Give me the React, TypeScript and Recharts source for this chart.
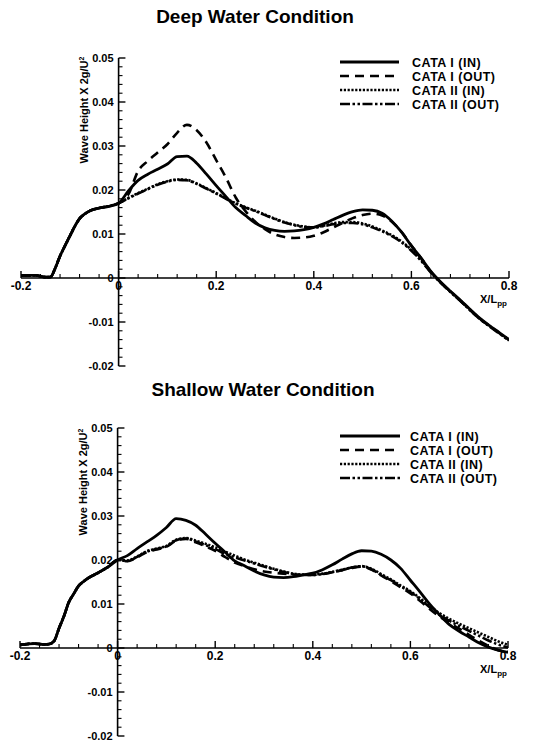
import React from 'react';
import { LineChart, Line, XAxis, YAxis, ReferenceLine, ReferenceDot } from 'recharts';

const FONT = '"Liberation Sans", Arial, Helvetica, sans-serif';

// X/Lpp stations ahead of the bow (shared by all four runs) and along the hull
const bowX = [-0.2, -0.17, -0.15, -0.14, -0.13, -0.12, -0.11, -0.1, -0.09, -0.08, -0.07, -0.06, -0.04, -0.02];
const hullX = [0, 0.02, 0.04, 0.06, 0.08, 0.1, 0.12, 0.14, 0.16, 0.18, 0.2, 0.22, 0.24, 0.26, 0.28, 0.3, 0.32, 0.34, 0.36, 0.38, 0.4, 0.42, 0.44, 0.46, 0.48, 0.5, 0.52, 0.54, 0.56, 0.58, 0.6, 0.62, 0.64, 0.66, 0.68, 0.7, 0.72, 0.74, 0.76, 0.78, 0.8];

// Deep water wave heights
const deepBow = [0.0006, 0.0006, 0.0002, 0.0002, 0.0022, 0.005, 0.0073, 0.0095, 0.0117, 0.0135, 0.0145, 0.0152, 0.0159, 0.0163];
const deepCata1In = [0.017, 0.0198, 0.0222, 0.0236, 0.0247, 0.0259, 0.0276, 0.0277, 0.0261, 0.0236, 0.021, 0.0185, 0.016, 0.0142, 0.0125, 0.0114, 0.0108, 0.0106, 0.0107, 0.011, 0.0115, 0.0123, 0.0133, 0.0143, 0.0151, 0.0155, 0.0154, 0.0147, 0.0129, 0.0104, 0.0073, 0.0045, 0.0015, -0.0009, -0.003, -0.005, -0.0071, -0.0091, -0.0108, -0.0124, -0.014];
const deepCata1Out = [0.017, 0.019, 0.0243, 0.0266, 0.0285, 0.0304, 0.033, 0.0348, 0.0336, 0.0308, 0.0268, 0.0228, 0.0183, 0.0152, 0.0128, 0.0111, 0.0099, 0.0093, 0.0091, 0.0092, 0.0096, 0.0104, 0.0115, 0.0126, 0.0136, 0.0143, 0.0146, 0.0142, 0.0128, 0.0104, 0.0074, 0.0045, 0.0014, -0.001, -0.0031, -0.0051, -0.0073, -0.0093, -0.0109, -0.0125, -0.0141];
const deepCata2In = [0.017, 0.0182, 0.0193, 0.0203, 0.0213, 0.022, 0.0224, 0.0223, 0.0215, 0.0204, 0.0193, 0.0181, 0.017, 0.0161, 0.0153, 0.0144, 0.0135, 0.0127, 0.0121, 0.0117, 0.0115, 0.0119, 0.0124, 0.0127, 0.0127, 0.0124, 0.0117, 0.0108, 0.0097, 0.0083, 0.0064, 0.0041, 0.0013, -0.001, -0.0031, -0.0051, -0.0072, -0.0092, -0.0109, -0.0125, -0.0141];
const deepCata2Out = [0.017, 0.0181, 0.0192, 0.0202, 0.0212, 0.0219, 0.0223, 0.0222, 0.0214, 0.0203, 0.0192, 0.018, 0.0169, 0.016, 0.0152, 0.0143, 0.0134, 0.0126, 0.012, 0.0116, 0.0115, 0.0118, 0.0122, 0.0125, 0.0125, 0.0122, 0.0115, 0.0106, 0.0095, 0.0081, 0.0062, 0.0039, 0.0012, -0.0011, -0.0032, -0.0052, -0.0073, -0.0093, -0.011, -0.0126, -0.0142];

// Shallow water wave heights
const shallowBow = [0.0007, 0.001, 0.0008, 0.0009, 0.0016, 0.0045, 0.0072, 0.0104, 0.0123, 0.0141, 0.0151, 0.0159, 0.0171, 0.0184];
const shallowCata1In = [0.02, 0.021, 0.0226, 0.0241, 0.0256, 0.0274, 0.0294, 0.029, 0.0279, 0.0259, 0.0238, 0.0218, 0.0198, 0.0187, 0.0175, 0.0166, 0.0161, 0.016, 0.0162, 0.0166, 0.017, 0.0178, 0.0189, 0.0202, 0.0214, 0.0221, 0.022, 0.0213, 0.02, 0.0181, 0.0154, 0.0127, 0.0099, 0.0075, 0.0053, 0.0038, 0.0025, 0.0012, 0.0002, -0.0005, -0.001];
const shallowCata1Out = [0.02, 0.0197, 0.0206, 0.0218, 0.0224, 0.023, 0.0244, 0.0248, 0.024, 0.0231, 0.0221, 0.0207, 0.0194, 0.0186, 0.0179, 0.0174, 0.0171, 0.0169, 0.0167, 0.0166, 0.0166, 0.0168, 0.0172, 0.0177, 0.0182, 0.0185, 0.0178, 0.0165, 0.0152, 0.0138, 0.0124, 0.0107, 0.0088, 0.0071, 0.0057, 0.0044, 0.003, 0.0017, 0.0005, -0.0005, -0.0008];
const shallowCata2In = [0.02, 0.0199, 0.0208, 0.022, 0.0226, 0.0232, 0.0246, 0.025, 0.0244, 0.0237, 0.0229, 0.0219, 0.021, 0.0201, 0.0194, 0.0187, 0.018, 0.0174, 0.0169, 0.0167, 0.0167, 0.0169, 0.0173, 0.0178, 0.0183, 0.0186, 0.018, 0.0168, 0.0156, 0.0142, 0.0129, 0.0113, 0.0095, 0.0079, 0.0066, 0.0055, 0.0045, 0.0035, 0.0025, 0.0015, 0.0007];
const shallowCata2Out = [0.02, 0.0198, 0.0207, 0.0219, 0.0225, 0.0231, 0.0245, 0.0249, 0.0242, 0.0234, 0.0225, 0.0214, 0.0206, 0.0199, 0.0192, 0.0185, 0.0179, 0.0173, 0.0168, 0.0166, 0.0166, 0.0168, 0.0172, 0.0177, 0.0183, 0.0186, 0.0179, 0.0166, 0.0154, 0.014, 0.0127, 0.0111, 0.0092, 0.0075, 0.0062, 0.005, 0.0039, 0.0028, 0.0017, 0.0008, 0.0001];

const seriesKeys = ['cata1In', 'cata1Out', 'cata2In', 'cata2Out'];
const seriesLabels = ['CATA I (IN)', 'CATA I (OUT)', 'CATA II (IN)', 'CATA II (OUT)'];
const seriesDash = ['', '9 6', '2.2 1.6', '10 2.5 2.5 2.5 2.5 2.5'];
const seriesWidth = [2.8, 2.6, 2.6, 2.6];
const drawOrder = [3, 2, 1, 0];

const yMajor = [0.05, 0.04, 0.03, 0.02, 0.01, 0, -0.01, -0.02];
const yMajorLabels = ['0.05', '0.04', '0.03', '0.02', '0.01', '0', '-0.01', '-0.02'];
const yMinor = [0.048, 0.046, 0.044, 0.042, 0.038, 0.036, 0.034, 0.032, 0.028, 0.026, 0.024, 0.022, 0.018, 0.016, 0.014, 0.012, 0.008, 0.006, 0.004, 0.002, -0.002, -0.004, -0.006, -0.008, -0.012, -0.014, -0.016, -0.018];
const xMajor = [-0.2, 0, 0.2, 0.4, 0.6, 0.8];
const xMajorLabels = ['-0.2', '0', '0.2', '0.4', '0.6', '0.8'];
const xMinor = [-0.16, -0.12, -0.08, -0.04, 0.04, 0.08, 0.12, 0.16, 0.24, 0.28, 0.32, 0.36, 0.44, 0.48, 0.52, 0.56, 0.64, 0.68, 0.72, 0.76];

const X_DOMAIN: [number, number] = [-0.2, 0.8];
const Y_DOMAIN: [number, number] = [-0.02, 0.05];

function buildRows(bow: number[], runs: number[][]) {
  const rows: Record<string, number>[] = [];
  bowX.forEach((x, i) => {
    const row: Record<string, number> = { x };
    seriesKeys.forEach((k) => { row[k] = bow[i]; });
    rows.push(row);
  });
  hullX.forEach((x, i) => {
    const row: Record<string, number> = { x };
    seriesKeys.forEach((k, s) => { row[k] = runs[s][i]; });
    rows.push(row);
  });
  return rows;
}

const deepRows = buildRows(deepBow, [deepCata1In, deepCata1Out, deepCata2In, deepCata2Out]);
const shallowRows = buildRows(shallowBow, [shallowCata1In, shallowCata1Out, shallowCata2In, shallowCata2Out]);

const labelStyle = { fill: '#000', fontWeight: 700, fontFamily: FONT };

type Layout = {
  top: number;
  margin: { top: number; right: number; bottom: number; left: number };
  titleX: number;
  titleY: number;
  legendY: number;
  legendLine: [number, number];
  legendText: number;
  yTitle: [number, number];
  xTitle: [number, number];
};

function WavePanel({ title, rows, layout }: { title: string; rows: Record<string, number>[]; layout: Layout }) {
  return (
    <div style={{ position: 'absolute', left: 0, top: layout.top, width: 534, height: 371 }}>
      <LineChart width={534} height={371} data={rows} margin={layout.margin}>
        <XAxis type="number" dataKey="x" domain={X_DOMAIN} hide allowDataOverflow />
        <YAxis type="number" domain={Y_DOMAIN} hide allowDataOverflow />

        {/* axes drawn through the origin */}
        <ReferenceLine y={0} stroke="#000" strokeWidth={1.6} ifOverflow="visible" />
        <ReferenceLine segment={[{ x: 0, y: -0.02 }, { x: 0, y: 0.05 }]} stroke="#000" strokeWidth={1.6} ifOverflow="visible" />

        {yMajor.map((v) => (
          <ReferenceLine key={`ym${v}`} segment={[{ x: 0, y: v }, { x: 0.014, y: v }]} stroke="#000" strokeWidth={1.4} ifOverflow="visible" />
        ))}
        {yMinor.map((v) => (
          <ReferenceLine key={`yn${v}`} segment={[{ x: 0, y: v }, { x: 0.008, y: v }]} stroke="#000" strokeWidth={1.1} ifOverflow="visible" />
        ))}
        {xMajor.map((v) => (
          <ReferenceLine key={`xm${v}`} segment={[{ x: v, y: 0 }, { x: v, y: 0.0016 }]} stroke="#000" strokeWidth={1.4} ifOverflow="visible" />
        ))}
        {xMinor.map((v) => (
          <ReferenceLine key={`xn${v}`} segment={[{ x: v, y: 0 }, { x: v, y: 0.0009 }]} stroke="#000" strokeWidth={1.1} ifOverflow="visible" />
        ))}

        {yMajor.map((v, i) => (
          <ReferenceDot key={`yl${v}`} x={0} y={v} r={0} fill="none" stroke="none" ifOverflow="visible"
            label={{ value: yMajorLabels[i], position: 'left', offset: 5, fontSize: 11, ...labelStyle }} />
        ))}
        {xMajor.map((v, i) => (
          <ReferenceDot key={`xl${v}`} x={v} y={0} r={0} fill="none" stroke="none" ifOverflow="visible"
            label={{ value: xMajorLabels[i], position: 'bottom', offset: 3, fontSize: 12, ...labelStyle }} />
        ))}

        {drawOrder.map((s) => (
          <Line
            key={seriesKeys[s]}
            dataKey={seriesKeys[s]}
            type="monotone"
            stroke="#000"
            strokeWidth={seriesWidth[s]}
            strokeDasharray={seriesDash[s] || undefined}
            strokeLinecap="butt"
            dot={false}
            activeDot={false}
            isAnimationActive={false}
          />
        ))}
      </LineChart>

      <svg width={534} height={371} style={{ position: 'absolute', left: 0, top: 0, pointerEvents: 'none' }}>
        <text x={layout.titleX} y={layout.titleY} textAnchor="middle" fontSize={19} fontWeight={700} fontFamily={FONT} fill="#000">
          {title}
        </text>
        <text
          x={layout.yTitle[0]}
          y={layout.yTitle[1]}
          transform={`rotate(-90 ${layout.yTitle[0]} ${layout.yTitle[1]})`}
          textAnchor="middle"
          fontSize={11}
          fontWeight={700}
          fontFamily={FONT}
          fill="#000"
        >
          Wave Height X 2g/U<tspan dy={-4} fontSize={7}>2</tspan>
        </text>
        <text x={layout.xTitle[0]} y={layout.xTitle[1]} fontSize={11} fontWeight={700} fontFamily={FONT} fill="#000">
          X/L<tspan dy={3} fontSize={8}>pp</tspan>
        </text>
        {seriesLabels.map((name, i) => {
          const y = layout.legendY + i * 14;
          return (
            <g key={name}>
              <line
                x1={layout.legendLine[0]}
                x2={layout.legendLine[1]}
                y1={y}
                y2={y}
                stroke="#000"
                strokeWidth={seriesWidth[i]}
                strokeDasharray={seriesDash[i] || undefined}
              />
              <text x={layout.legendText} y={y + 4.5} fontSize={12.5} letterSpacing={0.5} fontWeight={700} fontFamily={FONT} fill="#000">
                {name}
              </text>
            </g>
          );
        })}
      </svg>
    </div>
  );
}

const deepLayout: Layout = {
  top: 0,
  margin: { top: 58, right: 25, bottom: 5, left: 21 },
  titleX: 255,
  titleY: 23,
  legendY: 62,
  legendLine: [340, 399],
  legendText: 412,
  yTitle: [88, 110],
  xTitle: [480, 303],
};

const shallowLayout: Layout = {
  top: 371,
  margin: { top: 57, right: 26, bottom: 6, left: 20 },
  titleX: 263,
  titleY: 25,
  legendY: 65,
  legendLine: [340, 400],
  legendText: 410,
  yTitle: [87, 111],
  xTitle: [480, 302],
};

export default function App() {
  return (
    <div style={{ position: 'absolute', left: 0, top: 0, width: 534, height: 742, background: '#fff', fontFamily: FONT }}>
      <WavePanel title="Deep Water Condition" rows={deepRows} layout={deepLayout} />
      <WavePanel title="Shallow Water Condition" rows={shallowRows} layout={shallowLayout} />
    </div>
  );
}
